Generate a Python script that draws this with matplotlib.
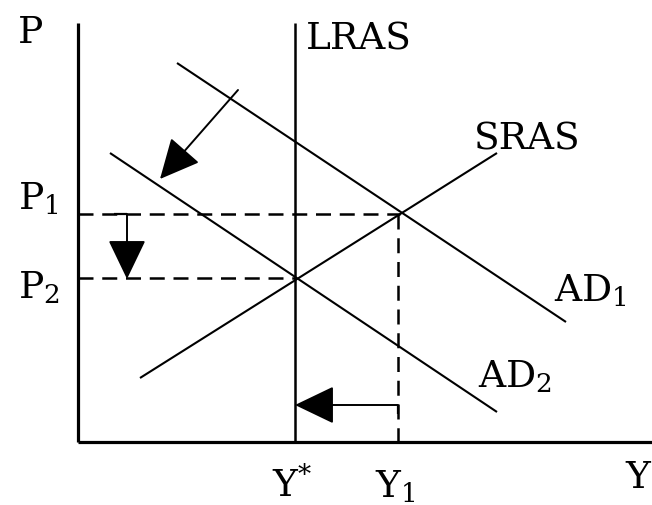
import matplotlib
matplotlib.use("Agg")
import matplotlib.pyplot as plt

plt.rcParams['font.family'] = ['DejaVu Serif']
plt.rcParams['mathtext.fontset'] = 'dejavuserif'

# diagram geometry in picture units (x right, y down)
axis_y = [(78, 23), (78, 442)]
axis_x = [(78, 442), (652, 442)]
lras = [(295, 23), (295, 442)]
ad1 = [(177, 63), (566, 322)]
ad2 = [(110, 153), (497, 412)]
sras = [(140, 378), (497, 153)]
p1_guide = [(78, 214), (400, 214)]
p2_guide = [(78, 278), (295, 278)]
y1_guide = [(398, 214), (398, 442)]

# shift arrows: (start, tip)
ad_shift = [(238, 90), (160, 179)]
p_shift = [(127, 214), (127, 279)]
y_shift = [(398, 405), (295, 405)]
p_bracket = [(114, 214), (127, 214)]
y_bracket = [(398, 405), (398, 414)]

# labels: (text, left x, baseline y)
labels = [
    ("P", 18, 43),
    ("P$_1$", 18, 209),
    ("P$_2$", 18, 298),
    ("LRAS", 306, 49),
    ("SRAS", 474, 149),
    ("AD$_1$", 554, 301),
    ("AD$_2$", 478, 387),
    ("Y$^{*}$", 272, 497),
    ("Y$_1$", 375, 497),
    ("Y", 625, 488),
]

fig = plt.figure(figsize=(6.52, 5.05), dpi=100)
ax = fig.add_axes([0, 0, 1, 1])
ax.set_xlim(0, 652)
ax.set_ylim(505, 0)
ax.axis('off')


def seg(pts, **kw):
    xs, ys = zip(*pts)
    ax.plot(xs, ys, color='black', solid_capstyle='butt', **kw)


seg(axis_y, lw=2.3)
seg(axis_x, lw=2.3)
seg(lras, lw=1.8)
for line in (ad1, ad2, sras):
    seg(line, lw=1.5)
for line in (p1_guide, p2_guide, y1_guide):
    seg(line, lw=1.8, linestyle=(0, (6, 3.5)))
seg(p_bracket, lw=1.6)
seg(y_bracket, lw=1.6)

for start, tip in (ad_shift, p_shift, y_shift):
    ax.annotate('', xy=tip, xytext=start,
                arrowprops=dict(arrowstyle='-|>,head_length=25,head_width=12',
                                mutation_scale=1, color='black', lw=1.4,
                                shrinkA=0, shrinkB=0))

for txt, x, y in labels:
    ax.text(x, y, txt, fontsize=27, ha='left', va='baseline', color='black')

fig.savefig('out.png', dpi=100, facecolor='white')
